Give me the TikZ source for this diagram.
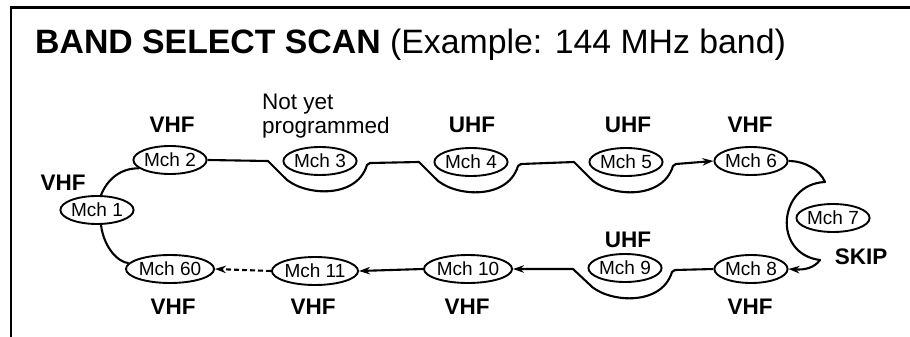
\documentclass[tikz,border=0pt]{standalone}
\usepackage{fontspec}
\setmainfont{Liberation Sans}
\usetikzlibrary{shapes.geometric,arrows.meta,calc}
\begin{document}
\begin{tikzpicture}[x=1pt,y=-1pt,
  mch/.style={ellipse,draw,line width=1.9pt,minimum width=69pt,minimum height=28pt,inner sep=0pt,font=\fontsize{19}{20}\selectfont},
  lbl/.style={font=\bfseries\fontsize{22.5}{24}\selectfont,inner sep=0pt},
  wire/.style={line width=2.1pt,line join=round},
  arr/.style={-{Stealth[length=11pt,width=7.5pt]}}]
\useasboundingbox (0,0) rectangle (910,337);
\draw[line width=2.2pt] (11,337) -- (11,7.5) -- (910,7.5);
\node[anchor=base west,inner sep=0pt,font=\fontsize{33.8}{40}\selectfont] (title) at (35,53) {\textbf{BAND SELECT SCAN} (Example: 144 MHz band)};
% channels
\node[mch] (m1) at (97,210) {Mch 1};
\node[mch] (m2) at (170,160) {Mch 2};
\node[mch] (m3) at (320,161) {Mch 3};
\node[mch] (m4) at (471,162) {Mch 4};
\node[mch] (m5) at (626,162) {Mch 5};
\node[mch] (m6) at (751,161) {Mch 6};
\node[mch] (m7) at (833,218) {Mch 7};
\node[mch] (m8) at (751,269) {Mch 8};
\node[mch] (m9) at (625,268) {Mch 9};
\node[mch] (m10) at (468,269) {Mch 10};
\node[mch] (m11) at (315,271) {Mch 11};
\node[mch] (m60) at (170,269) {Mch 60};
% labels
\node[lbl] (l1) at (63,183) {VHF};
\node[lbl] (l2) at (172,125) {VHF};
\node[anchor=south west,align=left,inner sep=0pt,font=\fontsize{22.5}{24}\selectfont] (l3) at (262,138) {Not yet\\programmed};
\node[lbl] (l4) at (472,125) {UHF};
\node[lbl] (l5) at (628,125) {UHF};
\node[lbl] (l6) at (750,125) {VHF};
\node[lbl] (l7) at (861,257) {SKIP};
\node[lbl] (l9) at (628,240) {UHF};
\node[lbl] (l8) at (750,307) {VHF};
\node[lbl] (l10) at (467,307) {VHF};
\node[lbl] (l11) at (313,307) {VHF};
\node[lbl] (l60) at (173,307) {VHF};
% connectors
\draw[wire] (m1.75) .. controls (107,180) and (120,168) .. (m2.195);
\draw[wire,arr] (m2.east) -- ($(m3)+(-52,0)$) -- ($(m3)+(-36,16)$)
  .. controls ($(m3)+(-20,34)$) and ($(m3)+(36,40)$) .. ($(m3)+(47,4)$) -- ($(m3)+(50,2)$)
  -- ($(m4)+(-52,0)$) -- ($(m4)+(-36,16)$)
  .. controls ($(m4)+(-20,34)$) and ($(m4)+(36,40)$) .. ($(m4)+(47,4)$) -- ($(m4)+(50,2)$)
  -- ($(m5)+(-52,0)$) -- ($(m5)+(-36,16)$)
  .. controls ($(m5)+(-20,34)$) and ($(m5)+(36,40)$) .. ($(m5)+(47,4)$) -- ($(m5)+(50,2)$)
  -- (m6.west);
\coordinate (k1) at (825,182);
\coordinate (k2) at (820,260);
\draw[wire,arr] (m6.east) .. controls (805,161) and (820,170) .. (k1)
  .. controls (778,184) and (772,254) .. (k2)
  .. controls (814,268) and (805,270) .. (m8.east);
\draw[wire,arr] (m8.west) -- ($(m9)+(50,2)$) -- ($(m9)+(47,4)$)
  .. controls ($(m9)+(36,40)$) and ($(m9)+(-20,34)$) .. ($(m9)+(-36,16)$)
  -- ($(m9)+(-52,1)$) -- (m10.east);
\draw[wire,arr] (m10.west) -- (m11.east);
\draw[wire,arr,dash pattern=on 5pt off 3pt] (m11.west) -- (m60.east);
\draw[wire] (m60.172) .. controls (118,262) and (104,248) .. (m1.-75);
\end{tikzpicture}
\end{document}
